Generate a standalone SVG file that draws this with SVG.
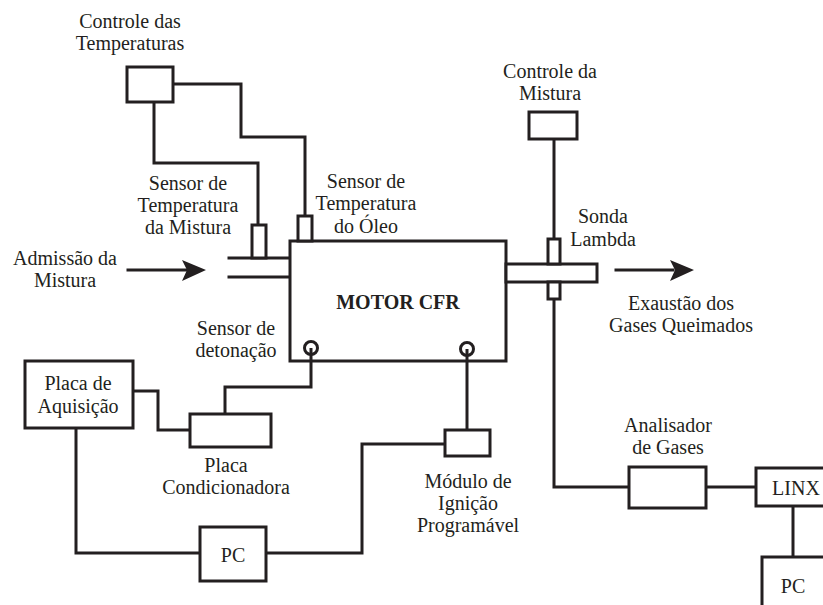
<svg xmlns="http://www.w3.org/2000/svg" width="823" height="605" viewBox="0 0 823 605">
<rect width="823" height="605" fill="#fff"/>
<g id="connectors" fill="none" stroke="#231f20" stroke-width="3" stroke-linecap="square">
<polyline points="154,102 154,163 258,163 258,225"/>
<polyline points="173,84 241,84 241,137 305,137 305,216"/>
<line x1="554" y1="140" x2="554" y2="239"/>
<polyline points="554,299 554,487 629,487"/>
<line x1="706" y1="487" x2="756" y2="487"/>
<line x1="793" y1="506" x2="793" y2="557"/>
<polyline points="311,348 311,387 225,387 225,414"/>
<polyline points="133,391 158,391 158,430 190,430"/>
<polyline points="76,428 76,553 200,553"/>
<polyline points="266,553 362,553 362,444 445,444"/>
<line x1="467" y1="352" x2="467" y2="430"/>
<line x1="128" y1="270" x2="186" y2="270"/>
<polygon points="206,270 182,260 187,270 182,281" fill="#231f20" stroke="none"/>
<line x1="616" y1="270" x2="673" y2="270"/>
<polygon points="694,270 670,260 675,270 670,281" fill="#231f20" stroke="none"/>
</g>
<g id="shapes" fill="#fff" stroke="#231f20" stroke-width="3">
<g id="intake">
<line x1="229" y1="258" x2="290" y2="258" stroke-linecap="square"/>
<line x1="229" y1="277" x2="290" y2="277" stroke-linecap="square"/>
</g>
<g id="motor">
<rect x="290" y="241" width="216" height="120"/>
</g>
<g id="exhaust">
<rect x="506" y="264" width="91" height="18"/>
</g>
<g id="sensor-mistura">
<rect x="252" y="225" width="14" height="33"/>
</g>
<g id="sensor-oleo">
<rect x="298" y="216" width="14" height="25"/>
</g>
<g id="sonda-lambda">
<rect x="548" y="239" width="12" height="25"/>
<rect x="548" y="282" width="12" height="17"/>
</g>
<g id="knock">
<circle cx="311" cy="348" r="6.5"/>
<line x1="311" y1="348" x2="311" y2="362"/>
</g>
<g id="ignition-sensor">
<circle cx="467" cy="349" r="6.5"/>
<line x1="467" y1="349" x2="467" y2="362"/>
</g>
<g id="controle-temperaturas"><rect x="127" y="67" width="46" height="35"/></g>
<g id="controle-mistura"><rect x="529" y="112" width="48" height="27"/></g>
<g id="placa-aquisicao"><rect x="25" y="361" width="108" height="67"/></g>
<g id="placa-condicionadora"><rect x="190" y="414" width="81" height="33"/></g>
<g id="pc1"><rect x="200" y="527" width="66" height="54"/></g>
<g id="modulo-ignicao"><rect x="445" y="430" width="45" height="26"/></g>
<g id="analisador"><rect x="629" y="467" width="77" height="41"/></g>
<g id="linx"><rect x="756" y="468" width="80" height="38"/></g>
<g id="pc2"><rect x="762" y="557" width="80" height="60"/></g>
</g>
<g id="texts" font-family="Liberation Serif, Times New Roman, serif" font-size="20" text-anchor="middle" fill="#231f20">
<text x="398" y="309" font-weight="bold">MOTOR CFR</text>
<text x="130" y="28">Controle das</text>
<text x="130" y="50">Temperaturas</text>
<text x="550" y="78">Controle da</text>
<text x="550" y="100">Mistura</text>
<text x="78" y="390">Placa de</text>
<text x="78" y="413">Aquisição</text>
<text x="226" y="472">Placa</text>
<text x="226" y="494">Condicionadora</text>
<text x="233" y="562">PC</text>
<text x="468" y="488">Módulo de</text>
<text x="468" y="510">Ignição</text>
<text x="468" y="532">Programável</text>
<text x="668" y="432">Analisador</text>
<text x="668" y="454">de Gases</text>
<text x="796" y="495">LINX</text>
<text x="793" y="593">PC</text>
<text x="65" y="265">Admissão da</text>
<text x="65" y="287">Mistura</text>
<text x="188" y="190">Sensor de</text>
<text x="188" y="212">Temperatura</text>
<text x="188" y="234">da Mistura</text>
<text x="366" y="188">Sensor de</text>
<text x="366" y="210">Temperatura</text>
<text x="366" y="233">do Óleo</text>
<text x="603" y="223">Sonda</text>
<text x="603" y="246">Lambda</text>
<text x="681" y="310">Exaustão dos</text>
<text x="681" y="332">Gases Queimados</text>
<text x="236" y="335">Sensor de</text>
<text x="236" y="357">detonação</text>
</g>
</svg>
